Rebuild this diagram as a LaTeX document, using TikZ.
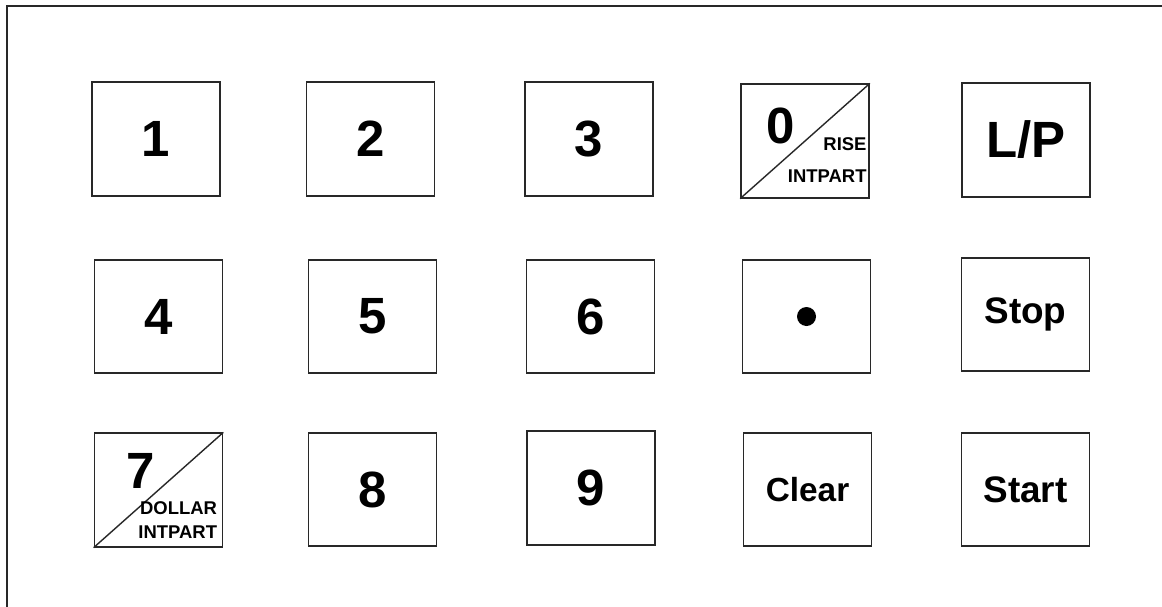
\documentclass[tikz,border=0pt]{standalone}
\usepackage{fontspec}
\setmainfont{Liberation Sans}
\usepackage{tikz}
\usetikzlibrary{positioning, calc}
\definecolor{keyline}{RGB}{40,40,40}
\tikzset{
  key/.style={rectangle, draw=keyline, fill=white,
    minimum width=2.56cm, minimum height=2.27cm, inner sep=0pt,
    line width=1pt, font=\fontsize{29}{32}\selectfont\bfseries},
  wordkey/.style={key, font=\fontsize{21}{24}\selectfont\bfseries},
  tag/.style={inner sep=0pt, font=\fontsize{10.5}{12}\selectfont\bfseries},
  bigtag/.style={inner sep=0pt, font=\fontsize{29}{32}\selectfont\bfseries},
  slash/.style={line width=0.8pt, color=keyline},
  frame/.style={line width=1.1pt, color=keyline}
}
\begin{document}
\begin{tikzpicture}
  \useasboundingbox (0,0) rectangle (23.24,-12.12);
  % Outer panel (cut by the page edge)
  \draw[frame] (0.14,-12.5) -- (0.14,-0.12) -- (23.6,-0.12);

  % Row 1
  \node[key] (k1) at (3.12,-2.78) {1};
  \node[key] (k2) at (7.41,-2.78) {2};
  \node[key] (k3) at (11.78,-2.78) {3};
  \node[key] (k0) at (16.10,-2.82) {};
  \node[key] (klp) at (20.52,-2.80) {L/P};

  % Row 2
  \node[key] (k4) at (3.17,-6.33) {4};
  \node[key] (k5) at (7.45,-6.33) {5};
  \node[key] (k6) at (11.81,-6.33) {6};
  \node[key] (kdot) at (16.13,-6.33) {};
  \node[wordkey] (kstop) at (20.51,-6.29) {Stop};

  % Row 3
  \node[key] (k7) at (3.17,-9.80) {};
  \node[key] (k8) at (7.45,-9.79) {8};
  \node[key] (k9) at (11.82,-9.76) {9};
  \node[wordkey, font=\fontsize{19}{22}\selectfont\bfseries] (kclear) at (16.15,-9.79) {Clear};
  \node[wordkey] (kstart) at (20.51,-9.79) {Start};

  % Decimal point
  \fill (kdot.center) circle (0.19);

  % Split keys
  \draw[slash] (k0.south west) -- (k0.north east);
  \node[bigtag] (t0) at ($(k0.north west)+(0.82,-0.86)$) {0};
  \node[tag, above left=0.96cm and 0.06cm of k0.south east] (t0a) {RISE};
  \node[tag, above left=0.32cm and 0.06cm of k0.south east] (t0b) {INTPART};

  \draw[slash] (k7.south west) -- (k7.north east);
  \node[bigtag] (t7) at ($(k7.north west)+(0.94,-0.78)$) {7};
  \node[tag, above left=0.66cm and 0.12cm of k7.south east] (t7a) {DOLLAR};
  \node[tag, above left=0.18cm and 0.12cm of k7.south east] (t7b) {INTPART};
\end{tikzpicture}
\end{document}
